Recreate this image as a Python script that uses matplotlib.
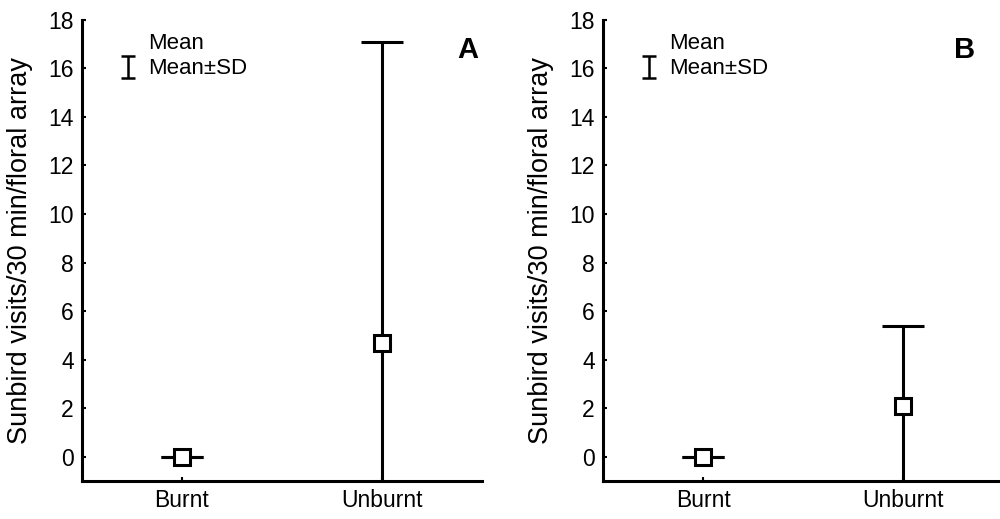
import numpy as np
import matplotlib
matplotlib.use('Agg')
import matplotlib.pyplot as plt
from matplotlib.lines import Line2D

plt.rcParams['font.family'] = ['Liberation Sans', 'DejaVu Sans']

# ==================== DATA ====================
categories = ['Burnt', 'Unburnt']
panel_labels = ['A', 'B']
means_a = [0.0, 4.7]
sd_a = [0.0, 12.4]
means_b = [0.0, 2.1]
sd_b = [0.0, 3.3]
y_ticks = [0, 2, 4, 6, 8, 10, 12, 14, 16, 18]
y_label = 'Sunbird visits/30 min/floral array'

fig = plt.figure(figsize=(10, 5.19), dpi=100)
ax_a = fig.add_axes([0.082, 0.073, 0.400, 0.889])
ax_b = fig.add_axes([0.603, 0.073, 0.400, 0.889])

# panel letter x positions (axes fraction), differ slightly between panels
letter_x = [0.99, 0.93]

for i, (ax, means, sds) in enumerate([(ax_a, means_a, sd_a), (ax_b, means_b, sd_b)]):
    x = np.arange(len(categories))
    ax.errorbar(x, means, yerr=sds, fmt='none', ecolor='black',
                elinewidth=2.2, capsize=15, capthick=2.2, zorder=2)
    ax.plot(x, means, 's', markersize=11.5, markerfacecolor='white',
            markeredgecolor='black', markeredgewidth=2.2, zorder=3)

    ax.set_xlim(-0.5, 1.5)
    ax.set_ylim(-1, 18)
    ax.set_xticks(x)
    ax.set_xticklabels(categories)
    ax.set_yticks(y_ticks)
    ax.tick_params(axis='both', labelsize=16.5, direction='in', length=3,
                   width=1.5, pad=6)
    ax.set_ylabel(y_label, fontsize=19.5)
    ax.yaxis.set_label_coords(-0.122, 0.5)

    for side in ['top', 'right']:
        ax.spines[side].set_visible(False)
    for side in ['left', 'bottom']:
        ax.spines[side].set_linewidth(2.2)

    ax.text(letter_x[i], 0.965, panel_labels[i], transform=ax.transAxes,
            fontsize=21, fontweight='bold', ha='right', va='top')

    # legend: blank entry for "Mean", error bar glyph for "Mean±SD"
    eb = ax.errorbar([np.nan], [np.nan], yerr=[1], fmt='none', ecolor='black',
                     elinewidth=1.8, capsize=5, capthick=1.8)
    blank = Line2D([], [], linestyle='none')
    ax.legend([blank, eb], ['Mean', 'Mean\u00b1SD'], loc='upper left',
              bbox_to_anchor=(0.06, 1.0), frameon=False, fontsize=16,
              handlelength=0.8, handletextpad=0.5, labelspacing=0.2,
              borderaxespad=0.2)

fig.savefig('out.png', dpi=100)
